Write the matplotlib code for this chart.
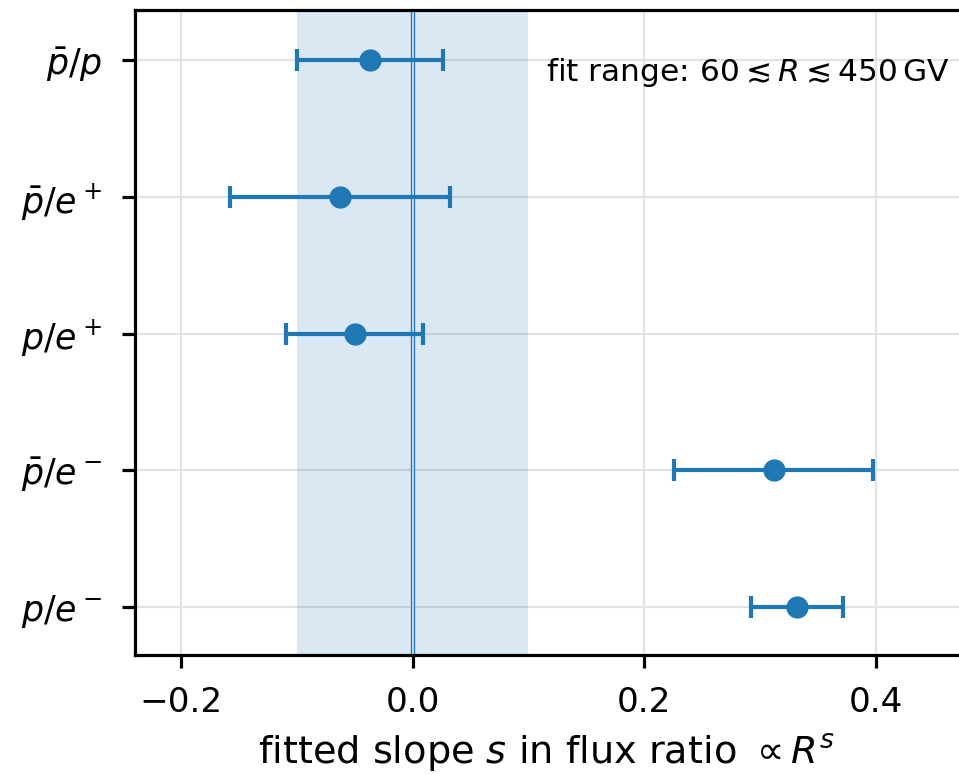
import matplotlib.pyplot as plt
import numpy as np

# flux ratios and fitted slopes
labels = [r'$\bar{p}/p$', r'$\bar{p}/e^+$', r'$p/e^+$', r'$\bar{p}/e^-$', r'$p/e^-$']
slopes = [-0.037, -0.063, -0.050, 0.312, 0.332]
errors = [0.063, 0.095, 0.059, 0.086, 0.040]
band = (-0.1, 0.1)

fig = plt.figure(figsize=(9.59, 7.75), dpi=100)
ax = fig.add_axes([0.1408, 0.1548, 0.8592, 0.832])

ypos = np.arange(len(labels))

ax.axvspan(band[0], band[1], color='C0', alpha=0.17, lw=0, zorder=1)
ax.axvline(0, color='C0', lw=3.1, zorder=2)
ax.axvline(0, color='#d9e8f2', lw=1.2, zorder=2)

ax.errorbar(slopes, ypos, xerr=errors, fmt='o', color='C0', ms=15,
            elinewidth=3, capsize=8, capthick=3, zorder=3)

ax.set_yticks(ypos)
ax.set_yticklabels(labels, fontsize=25)
ax.set_ylim(len(labels) - 1 + 0.35, -0.365)
ax.set_xlim(-0.2397, 0.472)
ax.set_xticks([-0.2, 0.0, 0.2, 0.4])
ax.tick_params(axis='x', labelsize=24.7, pad=13)
ax.tick_params(axis='y', pad=14)
ax.tick_params(direction='out', length=9.5, width=2.3)
ax.set_xlabel(r'fitted slope $s$ in flux ratio $\propto R^s$', fontsize=27.5, labelpad=9)

ax.grid(True, color='#e2e2e2', lw=1.5, zorder=0)
ax.set_axisbelow(True)
for side in ['left', 'bottom', 'top']:
    ax.spines[side].set_linewidth(2.3)
ax.spines['right'].set_visible(False)

ax.text(0.989, 0.904, r'fit range: $60 \lesssim R \lesssim 450\,$GV',
        transform=ax.transAxes, ha='right', va='center', fontsize=22.5)

fig.savefig('out.png', dpi=100)
